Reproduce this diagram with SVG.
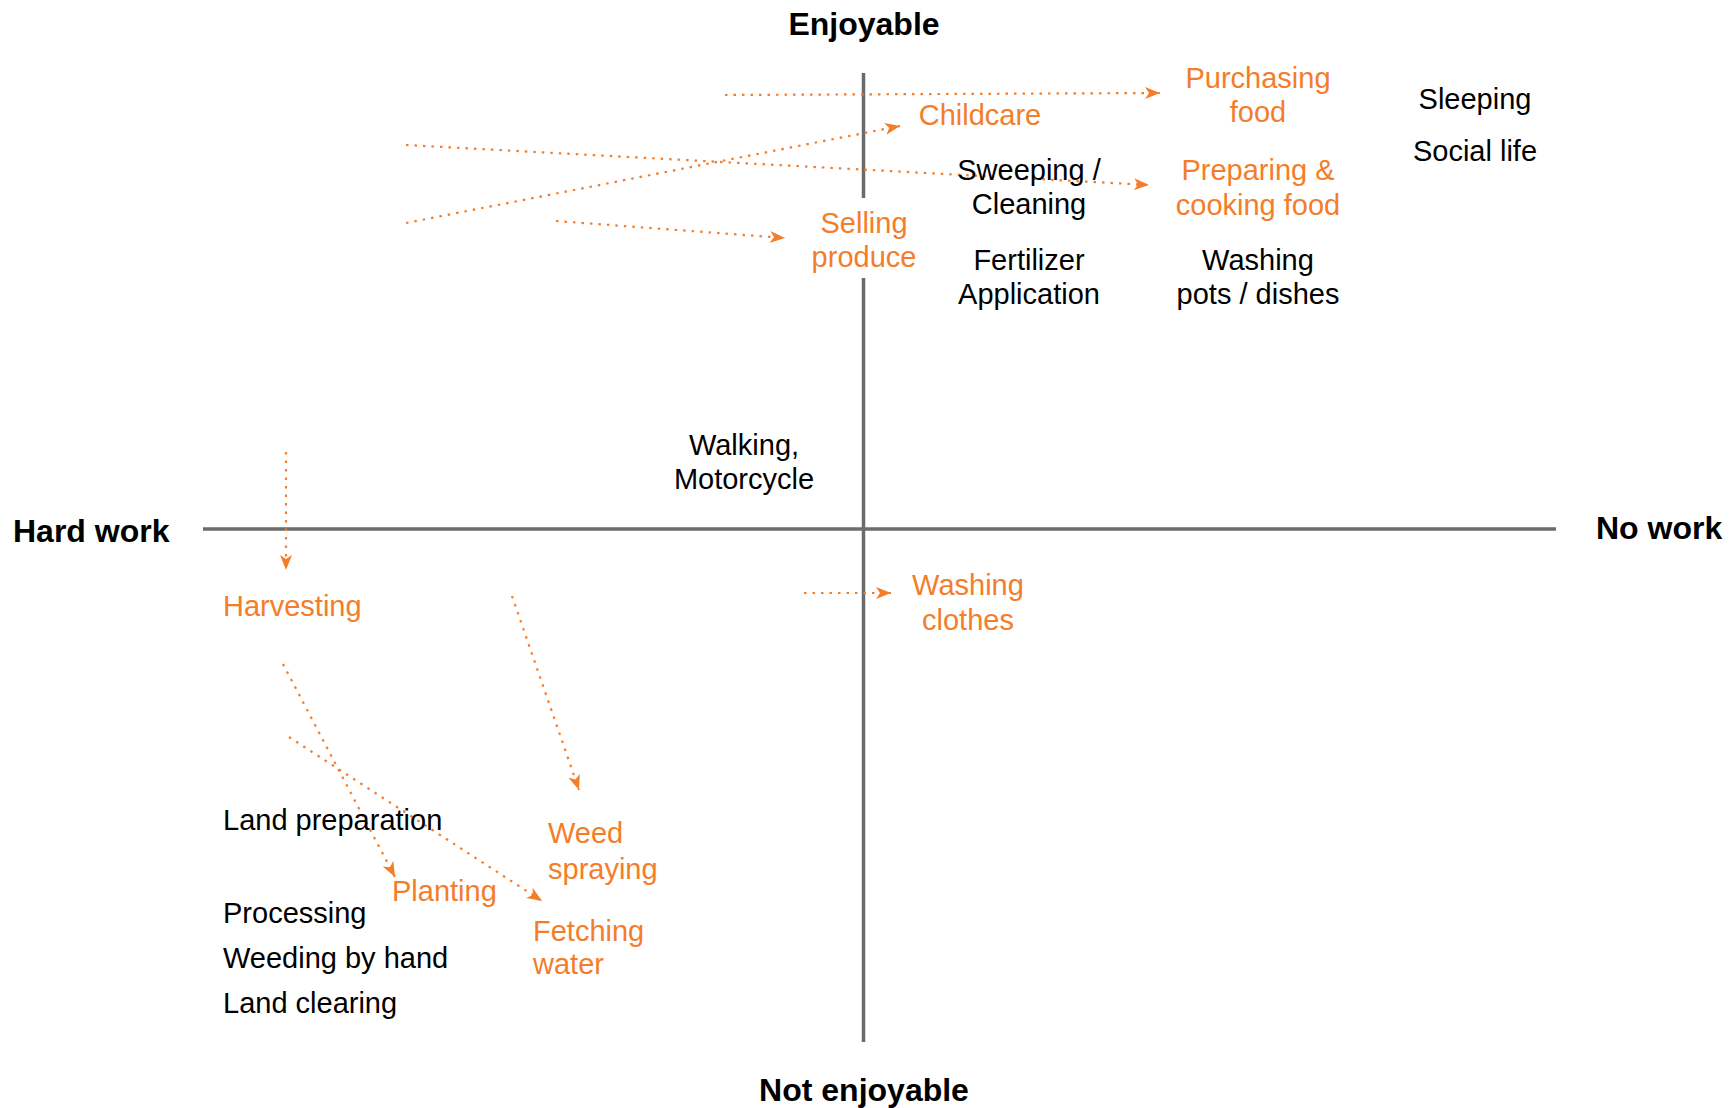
<svg xmlns="http://www.w3.org/2000/svg" width="1729" height="1108" viewBox="0 0 1729 1108">
<style>
text{font-family:"Liberation Sans",Arial,sans-serif;font-size:29px;fill:#000}
.o{fill:#F47D2A}
.b{font-weight:bold;font-size:32px}
.c{text-anchor:middle}
.axis{stroke:#6b6b6b;stroke-width:3.5;fill:none}
.dot{stroke:#F47D2A;stroke-width:2.2;stroke-dasharray:2.5 6;fill:none;marker-end:url(#ah)}
</style>
<defs>
<marker id="ah" markerUnits="userSpaceOnUse" markerWidth="17" markerHeight="14" refX="15" refY="6.5" orient="auto">
<path d="M0,0.5 L15,6.5 L0,12.5 L4,6.5 Z" fill="#F47D2A"/>
</marker>
</defs>
<rect width="1729" height="1108" fill="#fff"/>
<g id="axes">
<line class="axis" x1="203" y1="529" x2="1556" y2="529"/>
<line class="axis" x1="863.5" y1="73" x2="863.5" y2="198"/>
<line class="axis" x1="863.5" y1="278" x2="863.5" y2="1042"/>
</g>
<g id="axis-labels" transform="translate(0,1)">
<text id="enjoyable" class="b c" x="864" y="34">Enjoyable</text>
<text id="not-enjoyable" class="b c" x="864" y="1100">Not enjoyable</text>
<text id="hard-work" class="b" x="13" y="541">Hard work</text>
<text id="no-work" class="b" x="1596" y="538">No work</text>
</g>
<g id="connectors">
<line class="dot" x1="725" y1="95" x2="1160" y2="93"/>
<line class="dot" x1="406" y1="223" x2="900" y2="126"/>
<line class="dot" x1="406" y1="145" x2="1149" y2="185"/>
<line class="dot" x1="556" y1="221" x2="785" y2="238"/>
<line class="dot" x1="286" y1="452" x2="286" y2="570"/>
<line class="dot" x1="804" y1="593" x2="891" y2="593"/>
<line class="dot" x1="512" y1="596" x2="579" y2="790"/>
<line class="dot" x1="283" y1="664" x2="395" y2="877"/>
<line class="dot" x1="289" y1="737" x2="542" y2="901"/>
</g>
<g id="nodes" transform="translate(0,1)">
<g id="purchasing-food"><text class="o c" x="1258" y="87">Purchasing</text><text class="o c" x="1258" y="121">food</text></g>
<g id="sleeping"><text class="c" x="1475" y="108">Sleeping</text></g>
<g id="social-life"><text class="c" x="1475" y="160">Social life</text></g>
<g id="childcare"><text class="o c" x="980" y="124">Childcare</text></g>
<g id="sweeping"><text class="c" x="1029" y="179">Sweeping /</text><text class="c" x="1029" y="213">Cleaning</text></g>
<g id="preparing"><text class="o c" x="1258" y="179">Preparing &amp;</text><text class="o c" x="1258" y="214">cooking food</text></g>
<g id="selling"><text class="o c" x="864" y="232">Selling</text><text class="o c" x="864" y="266">produce</text></g>
<g id="fertilizer"><text class="c" x="1029" y="269">Fertilizer</text><text class="c" x="1029" y="303">Application</text></g>
<g id="washing-pots"><text class="c" x="1258" y="269">Washing</text><text class="c" x="1258" y="303">pots / dishes</text></g>
<g id="walking"><text class="c" x="744" y="454">Walking,</text><text class="c" x="744" y="488">Motorcycle</text></g>
<g id="washing-clothes"><text class="o c" x="968" y="594">Washing</text><text class="o c" x="968" y="629">clothes</text></g>
<g id="harvesting"><text class="o" x="223" y="615">Harvesting</text></g>
<g id="land-preparation"><text x="223" y="829">Land preparation</text></g>
<g id="weed-spraying"><text class="o" x="548" y="842">Weed</text><text class="o" x="548" y="878">spraying</text></g>
<g id="planting"><text class="o" x="392" y="900">Planting</text></g>
<g id="processing"><text x="223" y="922">Processing</text></g>
<g id="fetching-water"><text class="o" x="533" y="940">Fetching</text><text class="o" x="533" y="973">water</text></g>
<g id="weeding"><text x="223" y="967">Weeding by hand</text></g>
<g id="land-clearing"><text x="223" y="1012">Land clearing</text></g>
</g>
</svg>
